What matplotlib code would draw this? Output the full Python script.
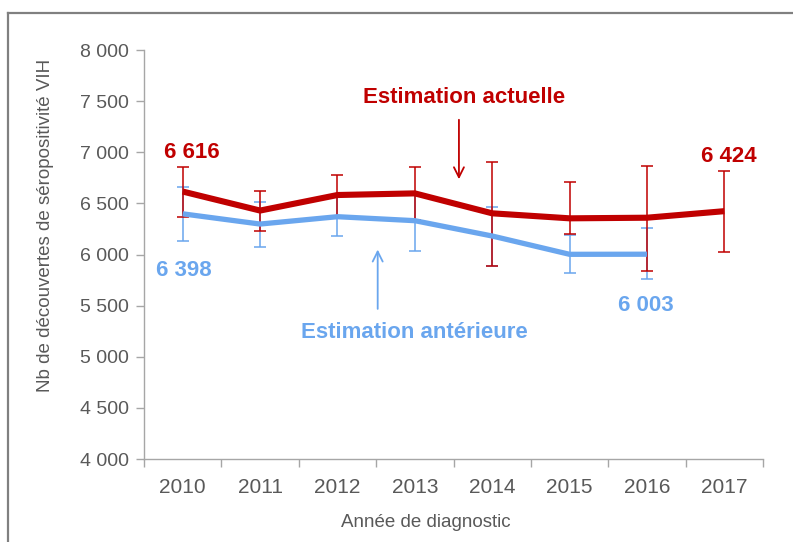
import matplotlib
matplotlib.use("Agg")
import matplotlib.pyplot as plt
import numpy as np
from matplotlib.lines import Line2D
from matplotlib.ticker import FuncFormatter, FixedLocator

plt.rcParams["font.family"] = ["Liberation Sans", "DejaVu Sans"]

years = ["2010", "2011", "2012", "2013", "2014", "2015", "2016", "2017"]

actuelle = [6616, 6430, 6582, 6598, 6403, 6354, 6360, 6424]
actuelle_low = [6370, 6230, 6380, 6340, 5888, 6197, 5839, 6028]
actuelle_high = [6859, 6621, 6778, 6859, 6908, 6712, 6866, 6817]

anterieure = [6398, 6298, 6370, 6331, 6181, 6002, 6003]
anterieure_low = [6135, 6076, 6181, 6037, 5885, 5818, 5758]
anterieure_high = [6663, 6510, 6580, 6600, 6467, 6191, 6256]

RED = "#c00000"
BLUE = "#6aa6ee"
GREY = "#a6a6a6"
TXT = "#595959"

fig = plt.figure(figsize=(7.93, 5.42), dpi=100)
ax = fig.add_axes([0.1816, 0.1531, 0.7806, 0.7546])

x_act = np.arange(len(actuelle))
x_ant = np.arange(len(anterieure))

err_act = [np.array(actuelle) - np.array(actuelle_low),
           np.array(actuelle_high) - np.array(actuelle)]
err_ant = [np.array(anterieure) - np.array(anterieure_low),
           np.array(anterieure_high) - np.array(anterieure)]

ax.errorbar(x_ant, anterieure, yerr=err_ant, fmt="none", ecolor=BLUE,
            elinewidth=1.1, capsize=4, capthick=1.1, zorder=2)
ax.errorbar(x_act, actuelle, yerr=err_act, fmt="none", ecolor=RED,
            elinewidth=1.1, capsize=4, capthick=1.1, zorder=3)
ax.plot(x_ant, anterieure, color=BLUE, lw=3.8, solid_capstyle="butt", zorder=4)
ax.plot(x_act, actuelle, color=RED, lw=4.4, solid_capstyle="butt", zorder=5)

ax.set_xlim(-0.5, 7.5)
ax.set_ylim(4000, 8000)
ax.set_yticks(np.arange(4000, 8001, 500))
ax.yaxis.set_major_formatter(FuncFormatter(lambda v, p: f"{int(v):,}".replace(",", " ")))
ax.set_xticks(x_act)
ax.set_xticklabels(years)
ax.xaxis.set_minor_locator(FixedLocator(np.arange(-0.5, 8, 1)))
ax.tick_params(axis="x", which="major", length=0, pad=14, labelsize=15, labelcolor=TXT)
ax.tick_params(axis="x", which="minor", length=6, width=1, color=GREY, direction="out")
ax.tick_params(axis="y", length=6, width=1, color=GREY, labelsize=14, labelcolor=TXT, pad=5)

for s in ["top", "right"]:
    ax.spines[s].set_visible(False)
for s in ["left", "bottom"]:
    ax.spines[s].set_color(GREY)
    ax.spines[s].set_linewidth(1)

ax.set_ylabel("Nb de découvertes de séropositivité VIH", fontsize=13.5, color=TXT)
ax.yaxis.set_label_coords(-0.145, 0.572)
ax.set_xlabel("Année de diagnostic", fontsize=13.5, color=TXT)
ax.xaxis.set_label_coords(0.456, -0.135)

ax.text(0.12, 7002, "6 616", color=RED, fontsize=16, fontweight="bold", ha="center", va="center")
ax.text(7.06, 6954, "6 424", color=RED, fontsize=16, fontweight="bold", ha="center", va="center")
ax.text(0.02, 5848, "6 398", color=BLUE, fontsize=16, fontweight="bold", ha="center", va="center")
ax.text(5.99, 5506, "6 003", color=BLUE, fontsize=16, fontweight="bold", ha="center", va="center")

ax.annotate("", xy=(3.57, 6709), xytext=(3.57, 7345),
            arrowprops=dict(arrowstyle="->", color=RED, lw=1.3, mutation_scale=18))
ax.text(3.63, 7531, "Estimation actuelle", color=RED, fontsize=16, fontweight="bold",
        ha="center", va="center")
ax.annotate("", xy=(2.52, 6076), xytext=(2.52, 5441),
            arrowprops=dict(arrowstyle="->", color=BLUE, lw=1.3, mutation_scale=18))
ax.text(3.0, 5242, "Estimation antérieure", color=BLUE, fontsize=16, fontweight="bold",
        ha="center", va="center")

# cadre gris en haut et à gauche
fig.add_artist(Line2D([8 / 793, 1.0], [1 - 13 / 542, 1 - 13 / 542], color="#808080", lw=1.6))
fig.add_artist(Line2D([8 / 793, 8 / 793], [0.0, 1 - 13 / 542], color="#808080", lw=1.6))

fig.savefig("out.png", dpi=100)
